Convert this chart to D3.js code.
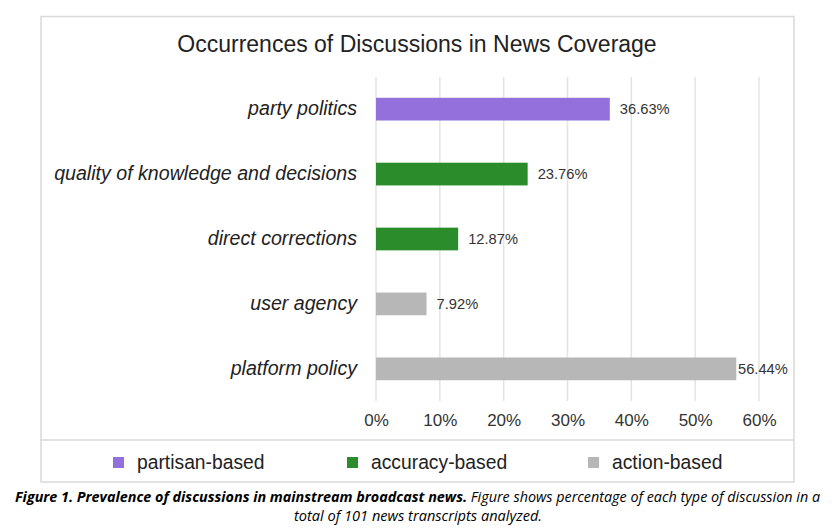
<!DOCTYPE html>
<html>
<head>
<meta charset="utf-8">
<script src="https://cdn.jsdelivr.net/npm/d3@7"></script>
<style>
  body { margin: 0; background: #fff; }
  svg { display: block; }
</style>
</head>
<body>
<svg id="chart" width="838" height="529"></svg>
<script>
// data
const categories = ['party politics', 'quality of knowledge and decisions', 'direct corrections', 'user agency', 'platform policy'];
const values = [36.63, 23.76, 12.87, 7.92, 56.44];
const groups = ['partisan-based', 'accuracy-based', 'accuracy-based', 'action-based', 'action-based'];
const legendLabels = ['partisan-based', 'accuracy-based', 'action-based'];
const xTicks = [0, 10, 20, 30, 40, 50, 60];
const title = 'Occurrences of Discussions in News Coverage';

const colors = d3.scaleOrdinal()
  .domain(legendLabels)
  .range(['#9370db', '#2b8c2b', '#b7b7b7']);

const svg = d3.select('#chart');

// outer frame
const box = { left: 41, top: 16.5, right: 794, bottom: 482 };
svg.append('rect')
  .attr('x', box.left).attr('y', box.top)
  .attr('width', box.right - box.left).attr('height', box.bottom - box.top)
  .attr('fill', '#fff').attr('stroke', '#d9d9d9').attr('stroke-width', 1.5);

svg.append('line')
  .attr('x1', box.left).attr('x2', box.right)
  .attr('y1', 440).attr('y2', 440)
  .attr('stroke', '#d9d9d9').attr('stroke-width', 1.5);

svg.append('text')
  .attr('x', 417).attr('y', 52)
  .attr('text-anchor', 'middle')
  .attr('font-family', 'Liberation Sans, Arial, sans-serif')
  .attr('font-size', 23)
  .attr('fill', '#222')
  .text(title);

const plot = { left: 376, right: 759, top: 77, bottom: 401 };

const x = d3.scaleLinear().domain([0, 60]).range([plot.left, plot.right]);
const y = d3.scaleBand().domain(categories).range([plot.top, plot.bottom]).paddingInner(0.65).paddingOuter(0.32);

// gridlines
svg.append('g')
  .selectAll('line')
  .data(xTicks)
  .join('line')
  .attr('x1', d => x(d)).attr('x2', d => x(d))
  .attr('y1', plot.top).attr('y2', plot.bottom)
  .attr('stroke', '#e3e3e3').attr('stroke-width', 1.5);

// x axis labels
const xAxis = svg.append('g')
  .attr('transform', `translate(0, ${plot.bottom})`)
  .call(d3.axisBottom(x).tickValues(xTicks).tickFormat(d => d + '%').tickSize(0).tickPadding(13));
xAxis.select('.domain').remove();
xAxis.selectAll('text')
  .attr('font-family', 'Liberation Sans, Arial, sans-serif')
  .attr('font-size', 17)
  .attr('fill', '#333');

// category labels
const yAxis = svg.append('g')
  .attr('transform', `translate(${plot.left}, 0)`)
  .call(d3.axisLeft(y).tickSize(0).tickPadding(19));
yAxis.select('.domain').remove();
yAxis.selectAll('text')
  .attr('font-family', 'Liberation Sans, Arial, sans-serif')
  .attr('font-style', 'italic')
  .attr('font-size', 19.6)
  .attr('fill', '#222');

// bars
svg.append('g')
  .selectAll('rect')
  .data(categories)
  .join('rect')
  .attr('x', x(0))
  .attr('y', d => y(d))
  .attr('width', (d, i) => x(values[i]) - x(0))
  .attr('height', y.bandwidth())
  .attr('fill', (d, i) => colors(groups[i]));

// value labels
svg.append('g')
  .selectAll('text')
  .data(categories)
  .join('text')
  .attr('x', (d, i) => Math.min(x(values[i]) + 10, box.right - 56))
  .attr('y', d => y(d) + y.bandwidth() / 2)
  .attr('dy', '0.35em')
  .attr('font-family', 'Liberation Sans, Arial, sans-serif')
  .attr('font-size', 14.7)
  .attr('fill', '#333')
  .text((d, i) => values[i].toFixed(2) + '%');

// legend
const legendX = [113, 347, 588];
const legend = svg.append('g')
  .selectAll('g')
  .data(legendLabels)
  .join('g')
  .attr('transform', (d, i) => `translate(${legendX[i]}, 462.5)`);
legend.append('rect')
  .attr('x', 0).attr('y', -5.5)
  .attr('width', 11).attr('height', 11)
  .attr('fill', d => colors(d));
legend.append('text')
  .attr('x', 24).attr('dy', '0.35em')
  .attr('font-family', 'Liberation Sans, Arial, sans-serif')
  .attr('font-size', 19.3)
  .attr('fill', '#222')
  .text(d => d);

// caption
const cap1 = svg.append('text')
  .attr('x', 15).attr('y', 502)
  .attr('font-family', 'Open Sans, sans-serif')
  .attr('font-size', 14.5)
  .attr('font-style', 'italic')
  .attr('fill', '#000')
  .attr('textLength', 805)
  .attr('lengthAdjust', 'spacingAndGlyphs');
cap1.append('tspan').attr('font-weight', 'bold').text('Figure 1. Prevalence of discussions in mainstream broadcast news.');
cap1.append('tspan').text(' Figure shows percentage of each type of discussion in a');

svg.append('text')
  .attr('x', 418).attr('y', 521)
  .attr('text-anchor', 'middle')
  .attr('font-family', 'Open Sans, sans-serif')
  .attr('font-size', 14.5)
  .attr('font-style', 'italic')
  .attr('fill', '#000')
  .attr('textLength', 248)
  .attr('lengthAdjust', 'spacingAndGlyphs')
  .text('total of 101 news transcripts analyzed.');
</script>
</body>
</html>
